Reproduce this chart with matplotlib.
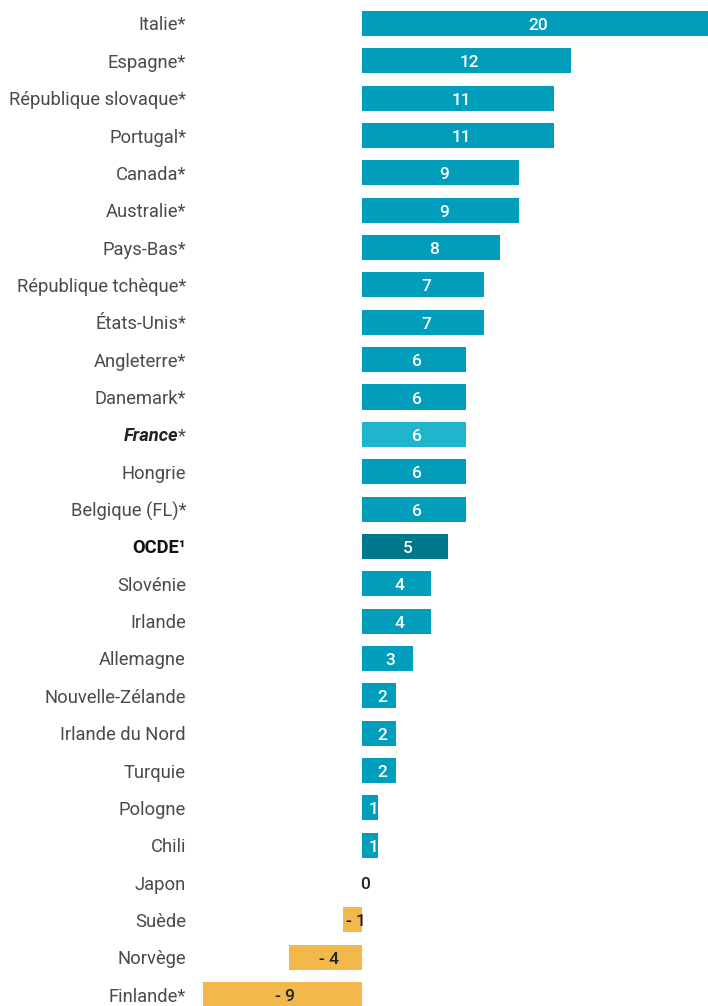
import matplotlib.pyplot as plt
import matplotlib.transforms as mtransforms

# données
pays = ["Italie*", "Espagne*", "République slovaque*", "Portugal*", "Canada*",
        "Australie*", "Pays-Bas*", "République tchèque*", "États-Unis*",
        "Angleterre*", "Danemark*", "France*", "Hongrie", "Belgique (FL)*",
        "OCDE¹", "Slovénie", "Irlande", "Allemagne", "Nouvelle-Zélande",
        "Irlande du Nord", "Turquie", "Pologne", "Chili", "Japon", "Suède",
        "Norvège", "Finlande*"]
valeurs = [20.0, 12.1, 11.1, 11.1, 9.1, 9.1, 8.0, 7.05, 7.05, 6.0, 6.0, 6.0,
           6.0, 6.0, 5.0, 4.0, 4.0, 2.95, 1.97, 1.97, 1.97, 0.95, 0.95, 0.0,
           -1.1, -4.2, -9.2]
etiquettes = ["20", "12", "11", "11", "9", "9", "8", "7", "7", "6", "6", "6",
              "6", "6", "5", "4", "4", "3", "2", "2", "2", "1", "1", "0",
              "- 1", "- 4", "- 9"]

BLEU = "#009EBA"
BLEU_FR = "#1FB5CC"
BLEU_OCDE = "#00788C"
JAUNE = "#F2B84B"
GRIS = "#4a4a4a"

plt.rcParams['font.family'] = ['Roboto', 'DejaVu Sans']

fig = plt.figure(figsize=(7.08, 10.06), dpi=100)
ax = fig.add_axes([0, 0, 1, 1])

couleurs = []
for p, v in zip(pays, valeurs):
    if v < 0:
        couleurs.append(JAUNE)
    elif p.startswith("France"):
        couleurs.append(BLEU_FR)
    elif p.startswith("OCDE"):
        couleurs.append(BLEU_OCDE)
    else:
        couleurs.append(BLEU)

y = list(range(len(pays)))
ax.barh(y, valeurs, height=0.67, color=couleurs)

ax.set_xlim(-362 / 17.3, 346 / 17.3)
ax.set_ylim(-23.5 / 37.35, (1006 - 23.5) / 37.35)
ax.invert_yaxis()
ax.axis('off')

# valeurs dans les barres (léger décalage comme l'original)
decal = mtransforms.offset_copy(ax.transData, fig=fig, x=3, y=-2, units='dots')
for i, (v, t) in enumerate(zip(valeurs, etiquettes)):
    coul = 'white' if v > 0 else '#222222'
    ax.text(v / 2, i, t, ha='center', va='center', color=coul,
            fontsize=12.5, fontweight='medium', transform=decal)

# noms des pays
trans = mtransforms.blended_transform_factory(fig.transFigure, ax.transData)
trans = mtransforms.offset_copy(trans, fig=fig, x=0, y=-2, units='dots')
xlab = 186 / 708
for i, p in enumerate(pays):
    if p == "France*":
        star = ax.text(xlab, i, "*", transform=trans, ha='right', va='center',
                       fontsize=13.2, color=GRIS)
        ax.annotate("France", xy=(0, 0.5), xycoords=star, ha='right',
                    va='center', fontsize=13.2, fontweight='bold',
                    fontstyle='italic', color='#222222')
    elif p.startswith("OCDE"):
        ax.text(xlab, i, p, transform=trans, ha='right', va='center',
                fontsize=13.2, fontweight='bold', color='#111111')
    else:
        ax.text(xlab, i, p, transform=trans, ha='right', va='center',
                fontsize=13.2, color=GRIS)

plt.savefig('out.png', dpi=100)
plt.close()
